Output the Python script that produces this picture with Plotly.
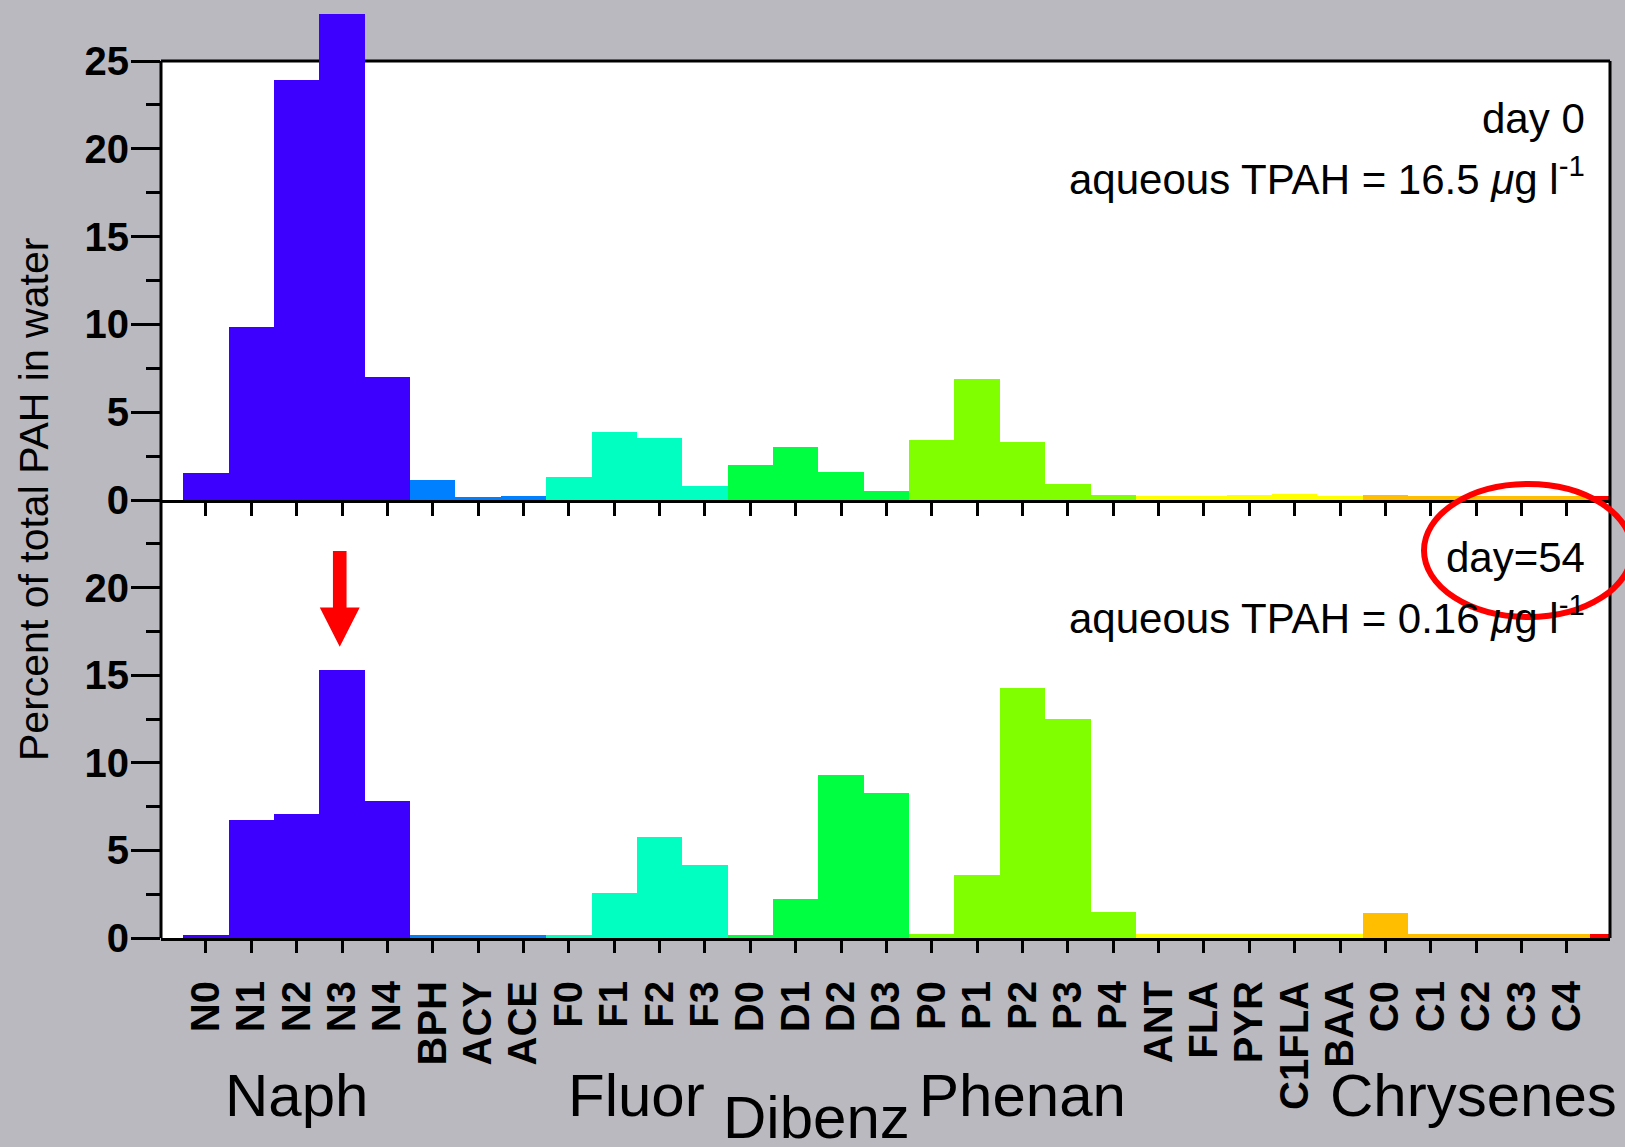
import plotly.graph_objects as go

# ---------------- data ----------------
categories = ["N0", "N1", "N2", "N3", "N4", "BPH", "ACY", "ACE", "F0", "F1", "F2", "F3",
              "D0", "D1", "D2", "D3", "P0", "P1", "P2", "P3", "P4", "ANT", "FLA", "PYR",
              "C1FLA", "BAA", "C0", "C1", "C2", "C3", "C4", "next"]
category_group = ["naph"] * 5 + ["bph"] * 3 + ["fluor"] * 4 + ["dibenz"] * 4 + ["phenan"] * 5 + \
                 ["other4"] * 5 + ["chrys"] * 5 + ["heavy"]

day0_pct = [1.54, 9.85, 23.9, 27.7, 7.0, 1.15, 0.17, 0.25, 1.33, 3.9, 3.55, 0.82,
            2.0, 3.0, 1.6, 0.5, 3.42, 6.9, 3.3, 0.92, 0.28, 0.25, 0.25, 0.3,
            0.35, 0.25, 0.3, 0.25, 0.25, 0.25, 0.25, 0.25]
day54_pct = [0.2, 6.73, 7.1, 15.3, 7.82, 0.2, 0.2, 0.2, 0.2, 2.57, 5.75, 4.18,
             0.2, 2.24, 9.32, 8.28, 0.22, 3.6, 14.25, 12.5, 1.5, 0.22, 0.22, 0.22,
             0.22, 0.22, 1.42, 0.22, 0.22, 0.22, 0.22, 0.22]

n_labeled = 31  # C4 is the last labelled category
group_labels = ["Naph", "Fluor", "Dibenz", "Phenan", "Chrysenes"]
y_max = 25
y_ticks_top = [0, 5, 10, 15, 20, 25]
y_ticks_bottom = [0, 5, 10, 15, 20]
y_minor_top = [2.5, 7.5, 12.5, 17.5, 22.5]
y_minor_bottom = [2.5, 7.5, 12.5, 17.5, 22.5]

# ---------------- style / layout ----------------
group_colors = {"naph": "#3D00FF", "bph": "#0080FF", "fluor": "#00FFC0", "dibenz": "#00FF40",
                "phenan": "#80FF00", "other4": "#FFFF00", "chrys": "#FFBF00", "heavy": "#FF0000"}
FONT = "Liberation Sans, Arial, sans-serif"
BG = "#b9b9bf"
W, H = 1625, 1147
TOP_PX, Y25_PX, MID_PX, BOT_PX = 9, 61, 500, 938   # pixel rows
ML, MR = 161, 15
MT, MB = TOP_PX, H - BOT_PX
PW, PH = W - ML - MR, BOT_PX - TOP_PX
split = (BOT_PX - MID_PX) / PH
top_range_max = y_max * (MID_PX - TOP_PX) / (MID_PX - Y25_PX)


def px_to_paper_x(px):
    return (px - ML) / PW


def px_to_paper_y(py):
    return (BOT_PX - py) / PH


fig = go.Figure()
idx = list(range(len(categories)))
for values, xa, ya in [(day0_pct, "x", "y"), (day54_pct, "x2", "y2")]:
    for g in dict.fromkeys(category_group):
        xs = [i for i in idx if category_group[i] == g]
        ys = [values[i] for i in xs]
        fig.add_trace(go.Bar(
            x=xs, y=ys, xaxis=xa, yaxis=ya, width=1.0,
            marker=dict(color=group_colors[g], line=dict(width=0)),
            showlegend=False, hoverinfo="x+y"))

xrange = [-0.99, 30.95]
common_x = dict(range=xrange, showgrid=False, zeroline=False, showline=True, linecolor="black",
                linewidth=3, ticks="outside", tickwidth=3, tickcolor="black",
                tickmode="array", tickvals=idx[:n_labeled], layer="below traces")
common_y = dict(showgrid=False, zeroline=False, showline=False,
                ticks="outside", ticklen=29, tickwidth=3,
                tickcolor="black", tickmode="array",
                tickfont=dict(family=FONT, size=40, color="black", weight="bold"),
                ticklabelstandoff=-6)
minor_common = dict(tickmode="array", ticks="outside", ticklen=14, tickwidth=3,
                    tickcolor="black", showgrid=False)

fig.update_layout(
    width=W, height=H, autosize=False,
    margin=dict(l=ML, r=MR, t=MT, b=MB, pad=0),
    paper_bgcolor=BG, plot_bgcolor=BG, bargap=0,
    xaxis=dict(**common_x, anchor="y", ticklen=13, showticklabels=False),
    xaxis2=dict(**common_x, anchor="y2", matches="x", ticklen=12,
                ticktext=categories[:n_labeled], tickangle=-90,
                tickfont=dict(family=FONT, size=40, color="black", weight="bold"),
                ticklabelstandoff=12),
    yaxis=dict(**common_y, domain=[split, 1], anchor="x", range=[0, top_range_max],
               tickvals=y_ticks_top, minor=dict(**minor_common, tickvals=y_minor_top)),
    yaxis2=dict(**common_y, domain=[0, split], anchor="x2", range=[0, y_max],
                tickvals=y_ticks_bottom, minor=dict(**minor_common, tickvals=y_minor_bottom)),
)

# white plotting areas and frames (top panel bar N3 overflows the frame)
for yr in ["y", "y2"]:
    fig.add_shape(type="rect", xref="paper", yref=yr, x0=0, x1=1, y0=0, y1=y_max,
                  fillcolor="white", line=dict(width=0), layer="below")
    for xv in (0, 1):
        fig.add_shape(type="line", xref="paper", yref=yr, x0=xv, x1=xv, y0=0, y1=y_max,
                      line=dict(color="black", width=3), layer="above")
fig.add_shape(type="line", xref="paper", yref="y", x0=0, x1=1, y0=y_max, y1=y_max,
              line=dict(color="black", width=3), layer="below")

ann_font = dict(family=FONT, size=42, color="black")
right_x = px_to_paper_x(1587)
texts = [("day 0", 119), ("aqueous TPAH = 16.5 <i>μ</i>g l<sup>-1</sup>", 176),
         ("day=54", 557), ("aqueous TPAH = 0.16 <i>μ</i>g l<sup>-1</sup>", 615)]
for t, py in texts:
    fig.add_annotation(text=t, xref="paper", yref="paper", x=right_x, y=px_to_paper_y(py),
                       xanchor="right", yanchor="middle", showarrow=False, font=ann_font)

# y-axis title
fig.add_annotation(text="Percent of total PAH in water", xref="paper", yref="paper",
                   x=px_to_paper_x(34), y=px_to_paper_y(500), textangle=-90,
                   xanchor="center", yanchor="middle", showarrow=False,
                   font=dict(family=FONT, size=41, color="black"))

# group labels under the category labels
group_pos = {"Naph": (2.0, 1095), "Fluor": (9.5, 1095), "Dibenz": (13.45, 1117),
             "Phenan": (18.0, 1095), "Chrysenes": (27.95, 1095)}
for name in group_labels:
    gx, gy = group_pos[name]
    fig.add_annotation(text=name, xref="x2", yref="paper", x=gx, y=px_to_paper_y(gy),
                       xanchor="center", yanchor="middle", showarrow=False,
                       font=dict(family=FONT, size=60, color="black"))

# red arrow pointing at N3 in the lower panel
ax = categories.index("N3") - 0.05
arrow_path = (f"M {ax-0.15},22.09 L {ax+0.15},22.09 L {ax+0.15},18.87 L {ax+0.44},18.87 "
              f"L {ax},16.63 L {ax-0.44},18.87 L {ax-0.15},18.87 Z")
fig.add_shape(type="path", path=arrow_path, xref="x2", yref="y2",
              fillcolor="#FF0000", line=dict(width=0), layer="above")

# red ellipse around "day=54"
fig.add_shape(type="circle", xref="paper", yref="paper",
              x0=px_to_paper_x(1424), x1=px_to_paper_x(1632),
              y0=px_to_paper_y(617), y1=px_to_paper_y(484),
              line=dict(color="#FF0000", width=6), layer="above")

fig.write_html("out.html")
